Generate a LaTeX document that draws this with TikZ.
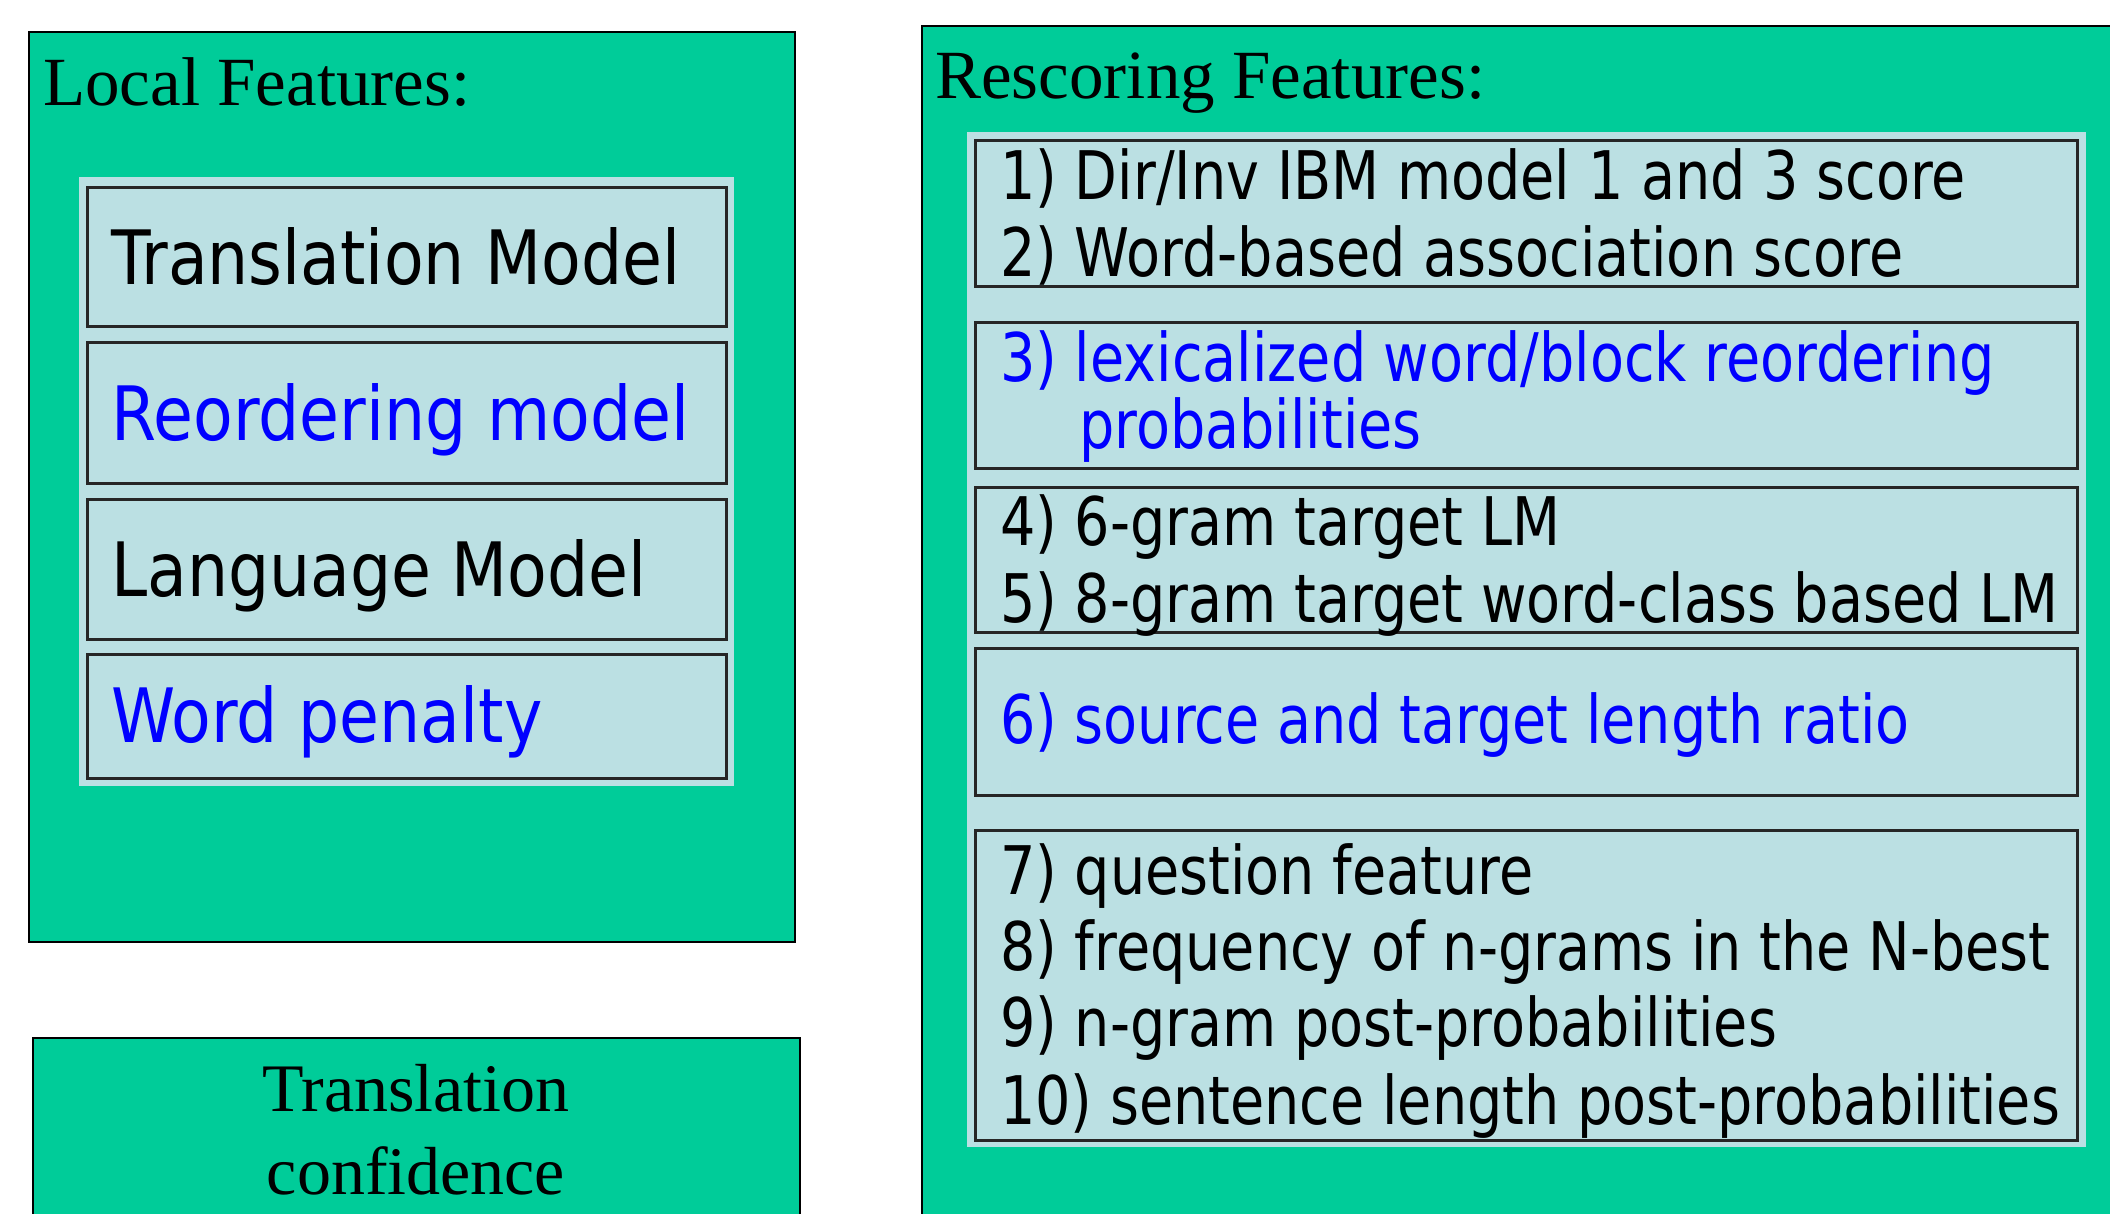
\documentclass[tikz,border=0pt]{standalone}
\usepackage{fontspec}
\setmainfont{Liberation Serif}
\newfontfamily\featfont[FakeStretch=0.865]{DejaVu Sans}
\newfontfamily\rescfont[FakeStretch=0.83]{DejaVu Sans}
\usetikzlibrary{calc}
\definecolor{featgreen}{RGB}{0,204,153}
\definecolor{featpanel}{RGB}{187,224,227}
\definecolor{featblue}{RGB}{0,0,255}

\begin{document}
\begin{tikzpicture}[x=1pt, y=-1pt,
  outerbox/.style={fill=featgreen, draw=black, line width=2pt},
  panelbox/.style={fill=featpanel},
  itembox/.style={draw=black!85, line width=3pt},
  headtext/.style={anchor=base west, inner sep=0, font=\fontsize{69}{80}\selectfont},
  localtext/.style={anchor=base west, inner sep=0, font=\featfont\fontsize{75}{90}\selectfont},
  resctext/.style={anchor=base west, inner sep=0, font=\rescfont\fontsize{67}{77}\selectfont}]
\useasboundingbox (0,0) rectangle (2110,1214);
\clip (0,0) rectangle (2110,1214);
\fill[white] (0,0) rectangle (2110,1214);
\draw[outerbox] (29,32) rectangle (795,942);
\draw[outerbox] (922,26) rectangle (2200,1300);
\draw[outerbox] (33,1038) rectangle (800,1300);
\fill[panelbox] (79,177) rectangle (734,786);
\fill[panelbox] (967,132) rectangle (2086,1147);
\foreach \ya/\yb in {188/327,343/483,499/639,654/778} {
 \draw[itembox] (87,\ya) rectangle (726,\yb);
}
\foreach \ya/\yb in {141/287,323/468,487/632,648/795,830/1140} {
 \draw[itembox] (975,\ya) rectangle (2077,\yb);
}
\node[headtext] (localhead) at (43,106) {Local Features:};
\node[headtext] (reschead) at (935,99) {Rescoring Features:};
\node[anchor=base, inner sep=0, font=\fontsize{68}{80}\selectfont] (confa) at (416,1111) {Translation};
\node[anchor=base, inner sep=0, font=\fontsize{68}{80}\selectfont] (confb) at (416,1194) {confidence};
\node[localtext] (transmodel) at (111,285) {Translation Model};
\node[localtext, text=featblue] (reordmodel) at (111,441) {Reordering model};
\node[localtext] (langmodel) at (111,596) {Language Model};
\node[localtext, text=featblue] (wordpen) at (111,742) {Word penalty};
\node[resctext] (ibm) at (1000,200) {1) Dir/Inv IBM model 1 and 3 score};
\node[resctext] (assoc) at (1000,277) {2) Word-based association score};
\node[resctext, text=featblue] (lexreord) at (1000,382) {3) lexicalized word/block reordering};
\node[resctext, text=featblue] (lexprob) at (1079,448) {probabilities};
\node[resctext] (sixgram) at (1000,545) {4) 6-gram target LM};
\node[resctext] (eightgram) at (1000,622) {5) 8-gram target word-class based LM};
\node[resctext, text=featblue] (lenratio) at (1000,743) {6) source and target length ratio};
\node[resctext] (question) at (1000,894) {7) question feature};
\node[resctext] (nbestfreq) at (1000,970) {8) frequency of n-grams in the N-best};
\node[resctext] (ngrampost) at (1000,1046) {9) n-gram post-probabilities};
\node[resctext] (lenpost) at (1000,1124) {10) sentence length post-probabilities};
\end{tikzpicture}
\end{document}
